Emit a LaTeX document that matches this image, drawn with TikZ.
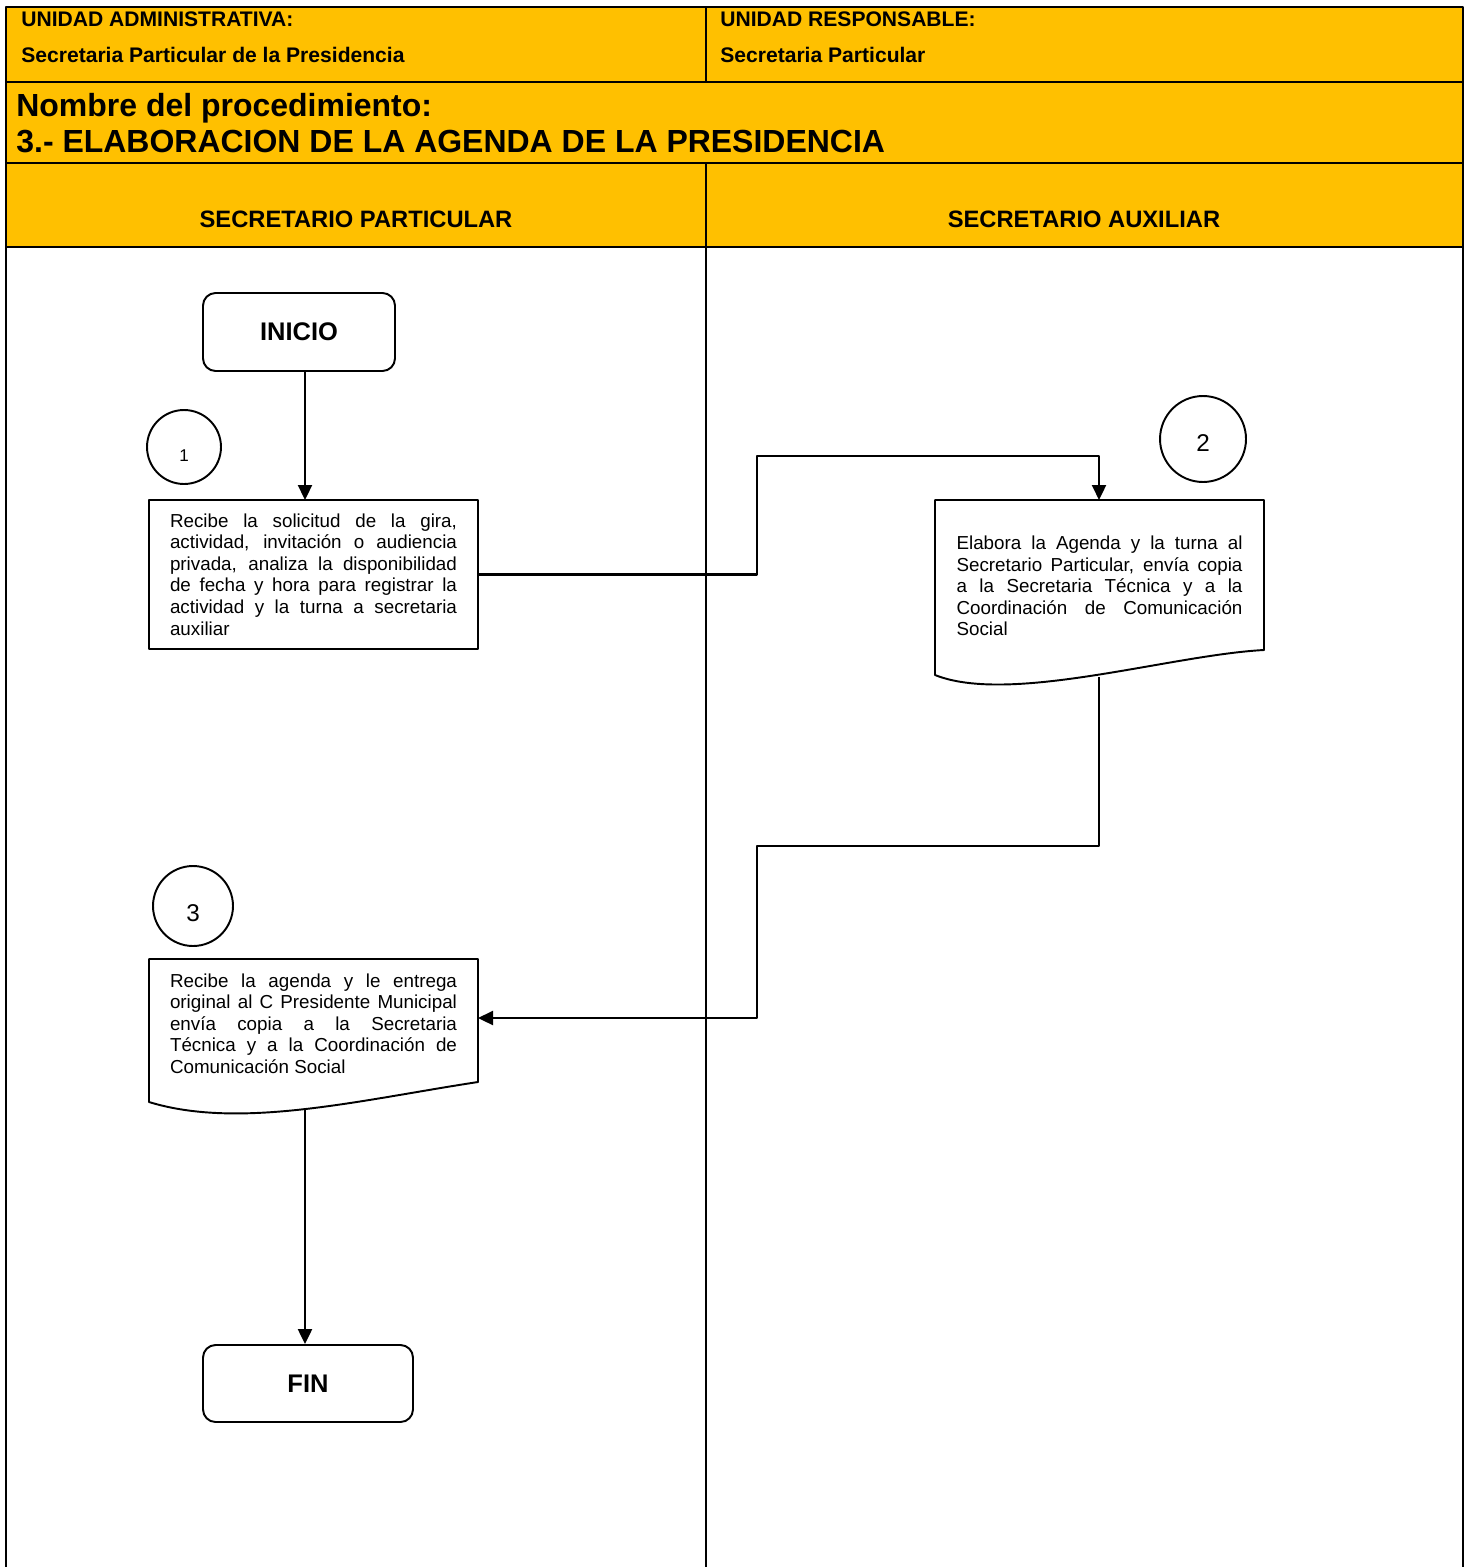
\documentclass[tikz,border=0pt]{standalone}
\usepackage{fontspec}
\setmainfont{Liberation Sans}
\usetikzlibrary{arrows.meta}
\definecolor{oro}{HTML}{FFC000}
\begin{document}
\begin{tikzpicture}[x=0.02cm, y=-0.02cm, >={Triangle[length=3mm,width=2.8mm]}, line join=round,
  marco/.style={line width=1.5pt},
  linea/.style={line width=1.1pt},
  flecha/.style={->, line width=1.3pt},
  texto/.style={text width=5.74cm, align=justify, inner sep=0pt, font=\fontsize{10.7}{12.25}\selectfont},
  caja/.style={draw, line width=1.1pt, minimum width=6.58cm, minimum height=2.98cm},
  extremo/.style={draw, rounded corners=0.25cm, line width=1.1pt, font=\fontsize{14.5}{17}\selectfont\bfseries},
  numero/.style={draw, circle, line width=1.1pt, inner sep=0pt, text depth=0pt},
  encab/.style={anchor=base west, inner sep=0pt, font=\fontsize{12}{14}\selectfont\bfseries},
  titulo/.style={anchor=base west, inner sep=0pt, font=\fontsize{18.2}{21}\selectfont\bfseries},
  carril/.style={anchor=base, inner sep=0pt, font=\fontsize{13.5}{16}\selectfont\bfseries}]
\useasboundingbox (0,0) rectangle (1469,1567);
\fill[oro] (6,7) rectangle (1463,247);
\draw[marco] (6,1567) -- (6,7) -- (1463,7) -- (1463,1567) (6,82) -- (1463,82) (6,163) -- (1463,163) (6,247) -- (1463,247)
  (706,7) -- (706,82) (706,163) -- (706,1567);
\node[encab] (ua) at (21,27) {UNIDAD ADMINISTRATIVA:};
\node[encab] (uan) at (21,63) {Secretaria Particular de la Presidencia};
\node[encab] (ur) at (720,27) {UNIDAD RESPONSABLE:};
\node[encab] (urn) at (720,63) {Secretaria Particular};
\node[titulo] (np) at (16,117) {Nombre del procedimiento:};
\node[titulo] (npn) at (16,153) {3.- ELABORACION DE LA AGENDA DE LA PRESIDENCIA};
\node[carril] (sp) at (356,228) {SECRETARIO PARTICULAR};
\node[carril] (sa) at (1084,228) {SECRETARIO AUXILIAR};
\path
(305,500) coordinate (e1)
(757,456) coordinate (q1)
(1099,500) coordinate (e2)
(1099,677) coordinate (s2)
(757,846) coordinate (q2)
(478,1018) coordinate (e3)
(305,1109) coordinate (s3)
;
\node[extremo, minimum width=3.84cm, minimum height=1.56cm] (inicio) at (299,332) {INICIO};
\node[extremo, minimum width=4.2cm, minimum height=1.54cm] (fin) at (308,1383.5) {FIN};
\node[numero, minimum size=1.48cm, text height=16pt, font=\fontsize{9.7}{11}\selectfont] (n1) at (184,447) {1};
\node[numero, minimum size=1.72cm, text height=14.5pt, font=\fontsize{13.8}{16}\selectfont] (n2) at (1203,439) {2};
\node[numero, minimum size=1.6cm, text height=18pt, font=\fontsize{13.8}{16}\selectfont] (n3) at (193,906) {3};
\node[caja, texto] (p1) at (313.5,574.5) {Recibe la solicitud de la gira,\linebreak actividad, invitación o audiencia\linebreak privada, analiza la disponibilidad\linebreak de fecha y hora para registrar la\linebreak actividad y la turna a secretaria\linebreak auxiliar};
\draw[linea] (935,500) -- (1264,500) -- (1264,650) .. controls (1170,655) and (1010,705) .. (935,675) -- cycle;
\node[texto, text width=5.72cm] (p2) at (1099.5,586) {Elabora la Agenda y la turna al\linebreak Secretario Particular, envía copia\linebreak a la Secretaria Técnica y a la\linebreak Coordinación de Comunicación\linebreak Social};
\draw[linea] (149,959) -- (478,959) -- (478,1082) .. controls (360,1100) and (240,1130) .. (149,1102) -- cycle;
\node[texto] (p3) at (313.5,1023.5) {Recibe la agenda y le entrega\linebreak original al C Presidente Municipal\linebreak envía copia a la Secretaria\linebreak Técnica y a la Coordinación de\linebreak Comunicación Social};
\draw[flecha] (e1 |- inicio.south) -- (e1);
\draw[flecha] (p1.east) -| (q1) -| (e2);
\draw[flecha] (s2) |- (q2) |- (e3);
\draw[flecha] (s3) -- (s3 |- fin.north);
\end{tikzpicture}
\end{document}
